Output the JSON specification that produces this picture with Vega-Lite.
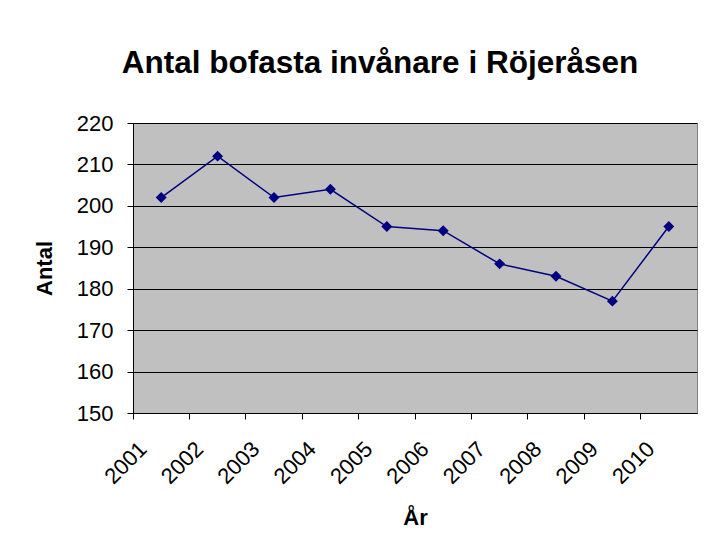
{
  "$schema": "https://vega.github.io/schema/vega-lite/v6.json",
  "width": 564,
  "height": 290,
  "autosize": {"type": "none"},
  "padding": {"left": 133, "top": 123, "right": 7, "bottom": 137},
  "background": "white",
  "title": {
    "text": "Antal bofasta invånare i Röjeråsen",
    "font": "Liberation Sans",
    "fontSize": 31.5,
    "fontWeight": "bold",
    "color": "black",
    "anchor": "middle",
    "dx": -35,
    "offset": 33
  },
  "data": {
    "values": [
      {"År": "2001", "Antal": 202},
      {"År": "2002", "Antal": 212},
      {"År": "2003", "Antal": 202},
      {"År": "2004", "Antal": 204},
      {"År": "2005", "Antal": 195},
      {"År": "2006", "Antal": 194},
      {"År": "2007", "Antal": 186},
      {"År": "2008", "Antal": 183},
      {"År": "2009", "Antal": 177},
      {"År": "2010", "Antal": 195}
    ]
  },
  "encoding": {
    "x": {
      "field": "År",
      "type": "ordinal",
      "bandPosition": 0.5,
      "scale": {"type": "band", "paddingInner": 0, "paddingOuter": 0},
      "axis": {
        "title": "År",
        "bandPosition": 0,
        "labelAngle": -45,
        "labelAlign": "right",
        "labelBaseline": "top",
        "labelOffset": -25,
        "labelPadding": 19,
        "labelFont": "Liberation Sans",
        "labelFontSize": 22,
        "labelColor": "black",
        "titleFont": "Liberation Sans",
        "titleFontSize": 22,
        "titleFontWeight": "bold",
        "titleColor": "black",
        "titlePadding": 20,
        "tickColor": "black",
        "tickSize": 6,
        "domainColor": "black",
        "grid": false
      }
    },
    "y": {
      "field": "Antal",
      "type": "quantitative",
      "scale": {"domain": [150, 220], "nice": false, "zero": false},
      "axis": {
        "title": "Antal",
        "values": [150, 160, 170, 180, 190, 200, 210, 220],
        "labelFont": "Liberation Sans",
        "labelFontSize": 22,
        "labelColor": "black",
        "labelPadding": 14,
        "titleFont": "Liberation Sans",
        "titleFontSize": 22,
        "titleFontWeight": "bold",
        "titleColor": "black",
        "titlePadding": 20,
        "tickColor": "black",
        "tickSize": 6,
        "domainColor": "black",
        "grid": true,
        "gridColor": "black",
        "gridOpacity": 1,
        "gridWidth": 1
      }
    }
  },
  "layer": [
    {"mark": {"type": "line", "color": "#000080", "strokeWidth": 1.5}},
    {"mark": {"type": "point", "shape": "diamond", "filled": true, "color": "#000080", "opacity": 1, "size": 120}}
  ],
  "config": {
    "view": {"fill": "#C0C0C0", "stroke": "#808080", "strokeWidth": 1}
  }
}
